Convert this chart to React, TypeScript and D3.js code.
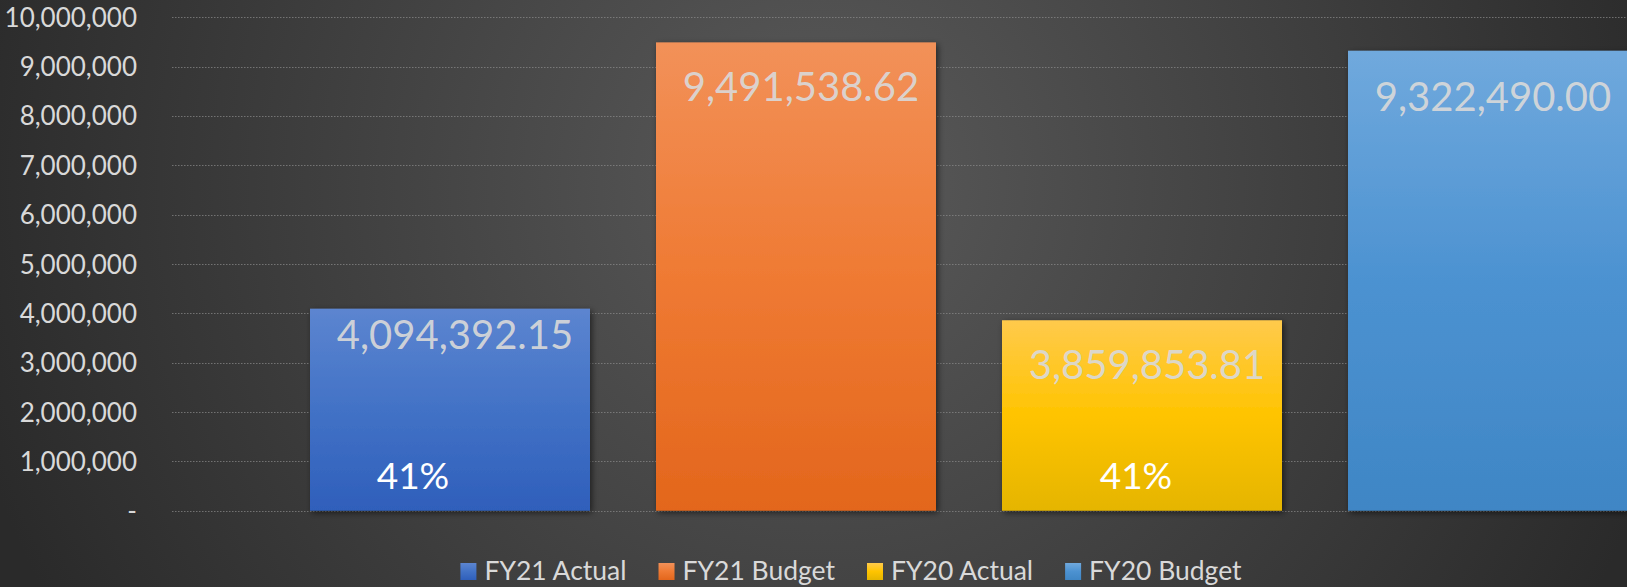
import { useEffect, useRef } from "react"
import * as d3 from "d3"

// Chart data
const series = ["FY21 Actual", "FY21 Budget", "FY20 Actual", "FY20 Budget"]
const values = [4094392.15, 9491538.62, 3859853.81, 9322490.0]
const percentLabels = ["41%", "", "41%", ""]
const yTicks = [0, 1000000, 2000000, 3000000, 4000000, 5000000, 6000000, 7000000, 8000000, 9000000, 10000000]

// gradient stops per series: [top, middle, bottom]
const barGradients = [
  ["#5c85d0", "#4272c6", "#2f5fbb"],
  ["#f29159", "#ef7a33", "#e3661c"],
  ["#ffca4c", "#ffc400", "#e5b500"],
  ["#70a9dd", "#4c92d1", "#3f86c5"],
]

const W = 1627
const H = 587

export default function App() {
  const svgRef = useRef<SVGSVGElement>(null)

  useEffect(() => {
    const svg = d3.select(svgRef.current)
    svg.selectAll("*").remove()

    const font = "Lato, 'Noto Sans', sans-serif"
    const defs = svg.append("defs")

    // background
    const bg = defs
      .append("radialGradient")
      .attr("id", "bg")
      .attr("gradientUnits", "userSpaceOnUse")
      .attr("cx", 820)
      .attr("cy", 180)
      .attr("r", 880)
    bg.append("stop").attr("offset", "0%").attr("stop-color", "#5a5a5a")
    bg.append("stop").attr("offset", "100%").attr("stop-color", "#2a2a2a")

    barGradients.forEach((stops, i) => {
      const g = defs
        .append("linearGradient")
        .attr("id", `bar${i}`)
        .attr("x1", 0)
        .attr("y1", 0)
        .attr("x2", 0)
        .attr("y2", 1)
      g.append("stop").attr("offset", "0%").attr("stop-color", stops[0])
      g.append("stop").attr("offset", "50%").attr("stop-color", stops[1])
      g.append("stop").attr("offset", "100%").attr("stop-color", stops[2])
    })

    const shadow = defs
      .append("filter")
      .attr("id", "shadow")
      .attr("x", "-10%")
      .attr("y", "-10%")
      .attr("width", "120%")
      .attr("height", "120%")
    shadow
      .append("feDropShadow")
      .attr("dx", 2)
      .attr("dy", 2)
      .attr("stdDeviation", 3)
      .attr("flood-color", "#000")
      .attr("flood-opacity", 0.55)

    svg.append("rect").attr("width", W).attr("height", H).attr("fill", "url(#bg)")

    // scales
    const y = d3.scaleLinear().domain([0, 10000000]).range([510.7, 17.3])
    const x = d3
      .scaleBand<string>()
      .domain(series)
      .range([277, 1661])
      .paddingInner(66 / 346)
      .paddingOuter(33 / 346)

    // grid lines
    svg
      .append("g")
      .selectAll("line")
      .data(yTicks)
      .enter()
      .append("line")
      .attr("x1", 172)
      .attr("x2", W)
      .attr("y1", (d) => Math.round(y(d)) + 0.5)
      .attr("y2", (d) => Math.round(y(d)) + 0.5)
      .attr("stroke", "#8c8c8c")
      .attr("stroke-width", 1)
      .attr("stroke-dasharray", "1.5,1.5")
      .attr("opacity", 0.7)

    // y labels
    svg
      .append("g")
      .selectAll("text")
      .data(yTicks)
      .enter()
      .append("text")
      .attr("x", 137)
      .attr("y", (d) => y(d) + 9.5)
      .attr("text-anchor", "end")
      .attr("font-family", font)
      .attr("font-size", 26)
      .attr("fill", "#d9d9d9")
      .text((d) => (d === 0 ? "-" : d3.format(",")(d)))

    // bars
    svg
      .append("g")
      .selectAll("rect")
      .data(values)
      .enter()
      .append("rect")
      .attr("x", (_, i) => x(series[i]) as number)
      .attr("y", (d) => y(d))
      .attr("width", x.bandwidth())
      .attr("height", (d) => y(0) - y(d))
      .attr("fill", (_, i) => `url(#bar${i})`)
      .attr("filter", "url(#shadow)")

    // value labels
    const valueDy = [40, 59, 59, 60]
    svg
      .append("g")
      .selectAll("text")
      .data(values)
      .enter()
      .append("text")
      .attr("x", (_, i) => (x(series[i]) as number) + x.bandwidth() / 2 + 5)
      .attr("y", (d, i) => y(d) + valueDy[i])
      .attr("text-anchor", "middle")
      .attr("font-family", font)
      .attr("font-size", 40)
      .attr("fill", "#d9d9d9")
      .attr("fill-opacity", 0.92)
      .text((d) => d3.format(",.2f")(d))

    // percent labels
    const pctDx = [-37, 0, -6, 0]
    svg
      .append("g")
      .selectAll("text")
      .data(percentLabels)
      .enter()
      .append("text")
      .attr("x", (_, i) => (x(series[i]) as number) + x.bandwidth() / 2 + pctDx[i])
      .attr("y", y(0) - 22)
      .attr("text-anchor", "middle")
      .attr("font-family", font)
      .attr("font-size", 37)
      .attr("fill", "#ffffff")
      .text((d) => d)

    // legend
    const legend = svg.append("g")
    const items = series.map((s, i) => {
      const g = legend.append("g")
      g.append("rect")
        .attr("x", 0)
        .attr("y", -17)
        .attr("width", 16)
        .attr("height", 17)
        .attr("fill", `url(#bar${i})`)
      const t = g
        .append("text")
        .attr("x", 24)
        .attr("y", 0)
        .attr("font-family", font)
        .attr("font-size", 26.5)
        .attr("fill", "#d9d9d9")
        .text(s)
      const w = 24 + (t.node() as SVGTextElement).getComputedTextLength()
      return { g, w }
    })
    const gap = 32
    const total = d3.sum(items, (d) => d.w) + gap * (items.length - 1)
    let cx = 851 - total / 2
    items.forEach((it) => {
      it.g.attr("transform", `translate(${cx},580)`)
      cx += it.w + gap
    })
  }, [])

  return (
    <>
      <style>{`body{margin:0;overflow:hidden}`}</style>
      <svg ref={svgRef} width={W} height={H} style={{ display: "block" }} />
    </>
  )
}
